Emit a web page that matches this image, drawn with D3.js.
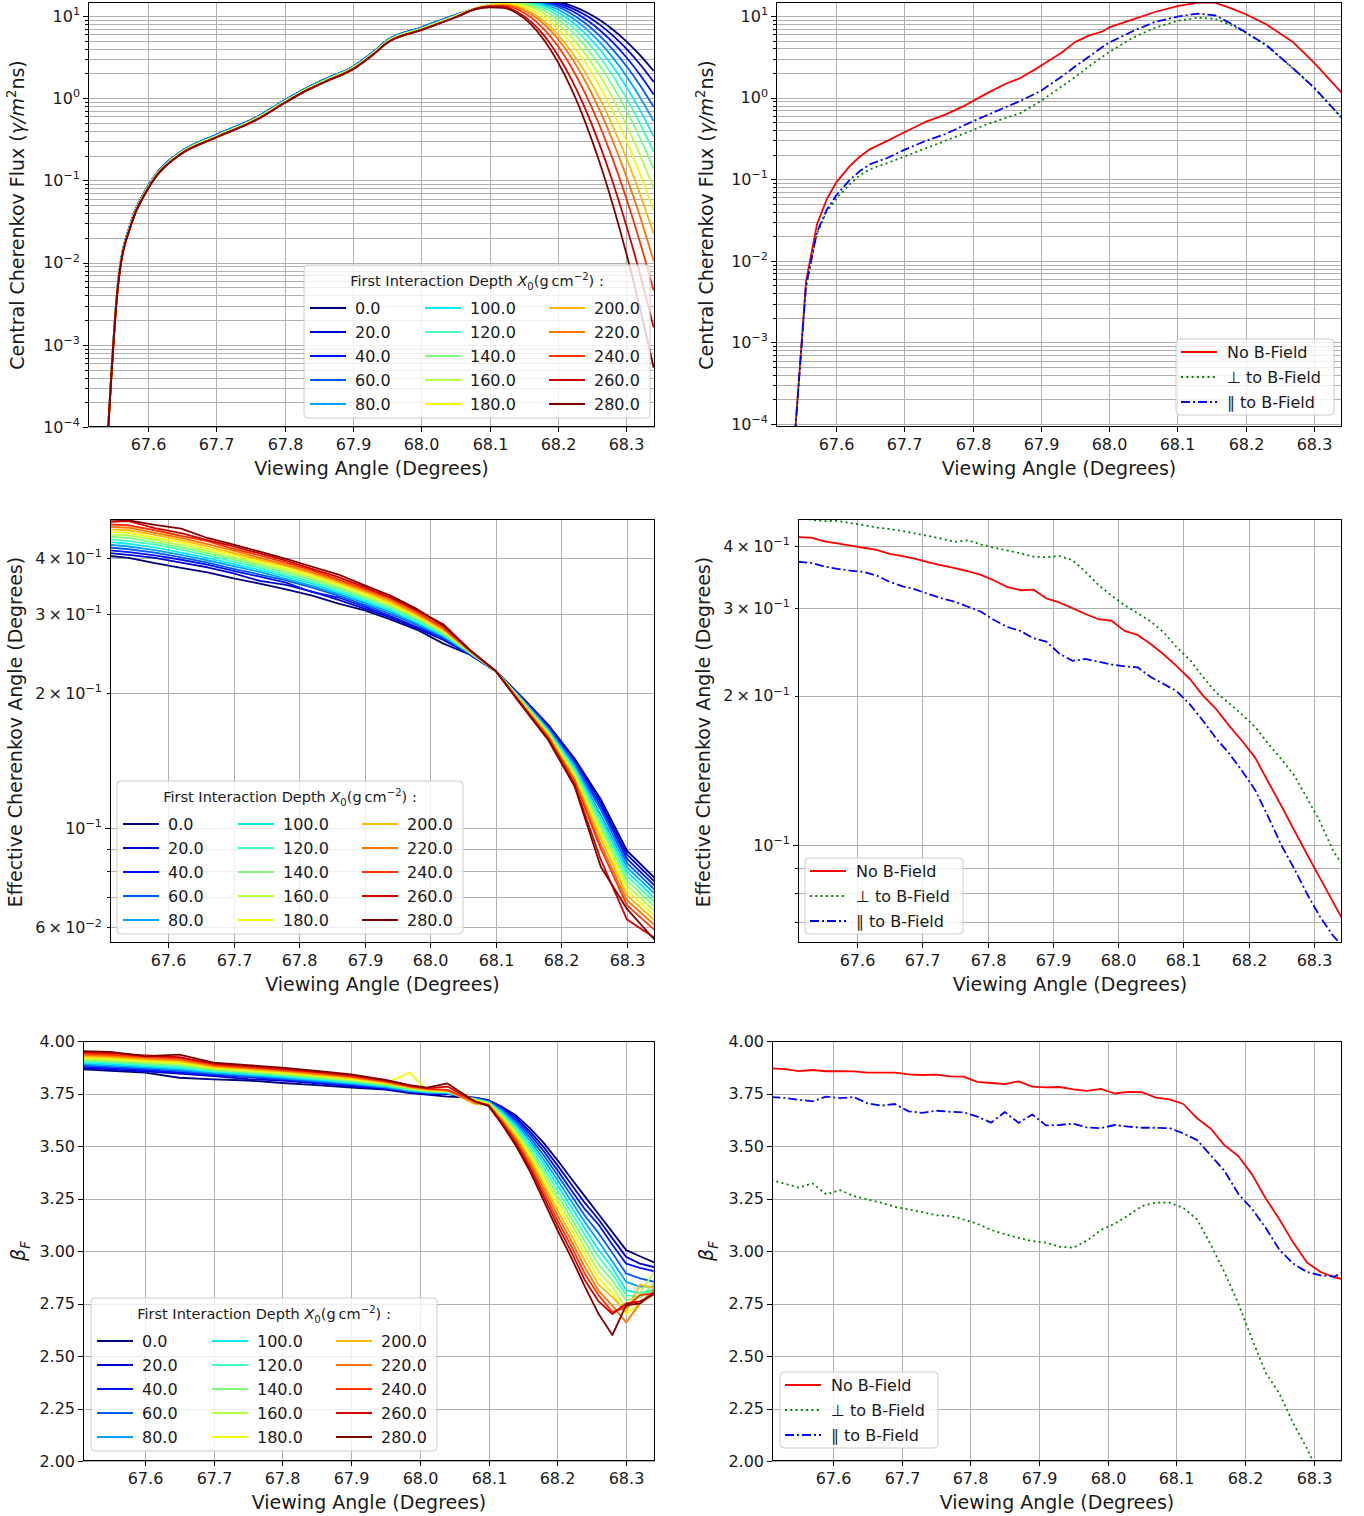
<!DOCTYPE html>
<html>
<head>
<meta charset="utf-8">
<script src="https://cdn.jsdelivr.net/npm/d3@7"></script>
<style>
  body { margin: 0; background: #fff; }
  text { font-family: "DejaVu Sans", sans-serif; fill: #1a1a1a; }
</style>
</head>
<body>
<script>
// ---------- data ----------
const depths = [0, 20, 40, 60, 80, 100, 120, 140, 160, 180, 200, 220, 240, 260, 280];
const angleTicks = [67.6, 67.7, 67.8, 67.9, 68.0, 68.1, 68.2, 68.3];
const bLabels = ['No B-Field', '\u22A5  to B-Field', '\u2225  to B-Field'];

// central Cherenkov flux vs viewing angle, one row per first interaction depth
const fluxAngle = [67.54, 67.556, 67.576, 67.596, 67.613, 67.627, 67.647, 67.70, 67.76, 67.80, 67.83, 67.86, 67.90, 67.93, 67.95, 68.00, 68.05,
  68.08, 68.10, 68.12, 68.14, 68.16, 68.18, 68.20, 68.22, 68.24, 68.26, 68.28, 68.30, 68.32, 68.34];
const fluxByDepth = [
  [5.8e-5, 0.0057, 0.0327, 0.0749, 0.124, 0.164, 0.221, 0.359, 0.595, 0.944, 1.30, 1.72, 2.42, 3.67, 5.07, 7.26, 10.3, 12.2, 13.6, 14.6, 15.4, 15.8, 15.7, 14.9, 13.3, 11.3, 9.06, 6.87, 4.93, 3.35, 2.15],
  [5.8e-5, 0.0057, 0.0327, 0.0749, 0.124, 0.164, 0.221, 0.359, 0.595, 0.944, 1.30, 1.72, 2.42, 3.67, 5.07, 7.26, 10.3, 12.3, 13.6, 14.6, 15.3, 15.7, 15.4, 14.3, 12.5, 10.3, 7.98, 5.82, 4.01, 2.59, 1.58],
  [5.8e-5, 0.0057, 0.0327, 0.0749, 0.124, 0.164, 0.221, 0.359, 0.595, 0.944, 1.30, 1.72, 2.42, 3.67, 5.07, 7.26, 10.3, 12.3, 13.6, 14.6, 15.3, 15.5, 15.0, 13.6, 11.6, 9.20, 6.87, 4.81, 3.15, 1.93, 1.11],
  [5.8e-5, 0.0057, 0.0327, 0.0749, 0.124, 0.164, 0.221, 0.359, 0.595, 0.944, 1.30, 1.72, 2.42, 3.67, 5.07, 7.26, 10.3, 12.3, 13.6, 14.6, 15.2, 15.3, 14.5, 12.9, 10.6, 8.18, 5.87, 3.94, 2.47, 1.44, 0.783],
  [5.8e-5, 0.0057, 0.0327, 0.0749, 0.124, 0.164, 0.221, 0.359, 0.595, 0.944, 1.30, 1.72, 2.42, 3.67, 5.07, 7.26, 10.3, 12.4, 13.6, 14.6, 15.1, 15.0, 13.9, 12.0, 9.59, 7.13, 4.91, 3.14, 1.87, 1.03, 0.527],
  [5.6e-5, 0.0055, 0.0316, 0.0724, 0.120, 0.158, 0.214, 0.347, 0.575, 0.912, 1.26, 1.66, 2.34, 3.55, 4.90, 7.01, 10.0, 12.4, 13.7, 14.6, 15.0, 14.6, 13.2, 11.1, 8.57, 6.11, 4.03, 2.45, 1.38, 0.716, 0.344],
  [5.6e-5, 0.0055, 0.0316, 0.0724, 0.120, 0.158, 0.214, 0.347, 0.575, 0.912, 1.26, 1.66, 2.34, 3.55, 4.90, 7.01, 10.0, 12.4, 13.7, 14.5, 14.8, 14.2, 12.5, 10.1, 7.55, 5.18, 3.26, 1.89, 1.01, 0.493, 0.222],
  [5.6e-5, 0.0055, 0.0316, 0.0724, 0.120, 0.158, 0.214, 0.347, 0.575, 0.912, 1.26, 1.66, 2.34, 3.55, 4.90, 7.01, 10.0, 12.4, 13.6, 14.3, 14.4, 13.5, 11.6, 9.06, 6.50, 4.28, 2.57, 1.42, 0.713, 0.329, 0.139],
  [5.6e-5, 0.0055, 0.0316, 0.0724, 0.120, 0.158, 0.214, 0.347, 0.575, 0.912, 1.26, 1.66, 2.34, 3.55, 4.90, 7.01, 10.0, 12.4, 13.6, 14.2, 14.1, 12.9, 10.6, 8.04, 5.51, 3.44, 1.95, 1.01, 0.476, 0.204, 0.0796],
  [5.6e-5, 0.0055, 0.0316, 0.0724, 0.120, 0.158, 0.214, 0.347, 0.575, 0.912, 1.26, 1.66, 2.34, 3.55, 4.90, 7.01, 10.0, 12.5, 13.6, 14.1, 13.7, 12.1, 9.66, 6.98, 4.56, 2.70, 1.44, 0.697, 0.305, 0.120, 0.0432],
  [5.4e-5, 0.0053, 0.0305, 0.0699, 0.116, 0.153, 0.207, 0.335, 0.555, 0.881, 1.22, 1.60, 2.26, 3.43, 4.73, 6.77, 9.66, 12.4, 13.5, 13.8, 13.1, 11.2, 8.57, 5.90, 3.66, 2.05, 1.03, 0.462, 0.188, 0.0686, 0.0225],
  [5.4e-5, 0.0053, 0.0305, 0.0699, 0.116, 0.153, 0.207, 0.335, 0.555, 0.881, 1.22, 1.60, 2.26, 3.43, 4.73, 6.77, 9.66, 12.2, 13.2, 13.5, 12.7, 10.6, 7.93, 5.24, 3.08, 1.61, 0.745, 0.306, 0.112, 0.0365, 0.0105],
  [5.4e-5, 0.0053, 0.0305, 0.0699, 0.116, 0.153, 0.207, 0.335, 0.555, 0.881, 1.22, 1.60, 2.26, 3.43, 4.73, 6.77, 9.66, 12.3, 13.1, 13.3, 12.1, 9.70, 6.85, 4.28, 2.35, 1.14, 0.486, 0.183, 0.0608, 0.0178, 0.00459],
  [5.4e-5, 0.0053, 0.0305, 0.0699, 0.116, 0.153, 0.207, 0.335, 0.555, 0.881, 1.22, 1.60, 2.26, 3.43, 4.73, 6.77, 9.66, 12.3, 13.1, 13.0, 11.3, 8.61, 5.73, 3.32, 1.68, 0.743, 0.286, 0.0964, 0.0283, 0.00726, 0.00163],
  [5.4e-5, 0.0053, 0.0305, 0.0699, 0.116, 0.153, 0.207, 0.335, 0.555, 0.881, 1.22, 1.60, 2.26, 3.43, 4.73, 6.77, 9.66, 12.1, 12.8, 12.6, 10.8, 7.99, 5.05, 2.74, 1.28, 0.509, 0.175, 0.0514, 0.0130, 0.00282, 0.000525]
];

// central flux, B-field comparison
const fluxAngleB = [67.54, 67.556, 67.572, 67.586, 67.60, 67.62, 67.635, 67.65, 67.675, 67.70, 67.73, 67.76, 67.79, 67.82, 67.85, 67.87, 67.90,
  67.93, 67.95, 67.97, 67.99, 68.00, 68.035, 68.067, 68.10, 68.13, 68.155, 68.18, 68.20, 68.23, 68.27, 68.30, 68.34];
const fluxNoB = [7.9e-5, 0.0056, 0.028, 0.056, 0.091, 0.145, 0.19, 0.234, 0.295, 0.376, 0.50, 0.62, 0.81, 1.12, 1.50, 1.74, 2.45,
  3.55, 4.79, 5.75, 6.46, 7.24, 9.12, 11.2, 13.2, 14.6, 14.6, 12.3, 10.5, 7.94, 4.73, 2.69, 1.16];
const fluxPerp = [7.9e-5, 0.0048, 0.0214, 0.0398, 0.0575, 0.087, 0.112, 0.133, 0.158, 0.19, 0.237, 0.296, 0.37, 0.468, 0.569, 0.646, 0.912,
  1.36, 1.78, 2.40, 3.16, 3.63, 5.43, 7.19, 8.71, 9.55, 9.23, 7.67, 6.25, 4.38, 2.24, 1.32, 0.57];
const fluxPar = [7.9e-5, 0.005, 0.0224, 0.0417, 0.063, 0.098, 0.126, 0.153, 0.182, 0.229, 0.292, 0.357, 0.468, 0.603, 0.776, 0.912, 1.21,
  1.80, 2.40, 3.16, 4.17, 4.72, 6.56, 8.45, 9.82, 10.7, 10.2, 7.94, 6.31, 4.42, 2.26, 1.33, 0.575];

// effective Cherenkov angle vs viewing angle, per depth
const cherAngle = [67.51, 67.54, 67.58, 67.62, 67.66, 67.70, 67.74, 67.78, 67.82, 67.86, 67.90, 67.94, 67.98, 68.02, 68.06, 68.10, 68.14, 68.18, 68.22, 68.26, 68.30, 68.345];
const cherByDepth = [
  [0.405, 0.401, 0.390, 0.381, 0.372, 0.361, 0.351, 0.341, 0.330, 0.317, 0.306, 0.292, 0.277, 0.258, 0.244, 0.224, 0.196, 0.170, 0.143, 0.116, 0.0890, 0.0767],
  [0.411, 0.407, 0.401, 0.391, 0.382, 0.370, 0.356, 0.349, 0.337, 0.323, 0.309, 0.295, 0.279, 0.263, 0.244, 0.224, 0.195, 0.169, 0.142, 0.114, 0.0872, 0.0752],
  [0.417, 0.413, 0.406, 0.397, 0.387, 0.375, 0.364, 0.353, 0.336, 0.327, 0.312, 0.297, 0.281, 0.265, 0.245, 0.224, 0.195, 0.168, 0.140, 0.112, 0.0854, 0.0737],
  [0.423, 0.419, 0.412, 0.402, 0.391, 0.379, 0.368, 0.357, 0.344, 0.330, 0.315, 0.300, 0.284, 0.266, 0.245, 0.224, 0.194, 0.167, 0.139, 0.110, 0.0835, 0.0722],
  [0.429, 0.425, 0.417, 0.407, 0.396, 0.384, 0.373, 0.360, 0.347, 0.333, 0.318, 0.303, 0.286, 0.268, 0.246, 0.224, 0.193, 0.166, 0.138, 0.107, 0.0817, 0.0707],
  [0.435, 0.431, 0.423, 0.412, 0.401, 0.388, 0.377, 0.364, 0.351, 0.336, 0.321, 0.306, 0.288, 0.269, 0.246, 0.224, 0.193, 0.165, 0.136, 0.105, 0.0799, 0.0692],
  [0.441, 0.437, 0.429, 0.418, 0.406, 0.393, 0.381, 0.368, 0.354, 0.340, 0.324, 0.308, 0.290, 0.271, 0.247, 0.224, 0.192, 0.164, 0.135, 0.103, 0.0781, 0.0677],
  [0.447, 0.444, 0.434, 0.423, 0.411, 0.398, 0.385, 0.372, 0.358, 0.343, 0.327, 0.311, 0.293, 0.272, 0.247, 0.224, 0.192, 0.163, 0.133, 0.101, 0.0763, 0.0662],
  [0.452, 0.450, 0.440, 0.428, 0.415, 0.402, 0.389, 0.376, 0.362, 0.346, 0.330, 0.314, 0.295, 0.274, 0.247, 0.224, 0.191, 0.163, 0.132, 0.099, 0.0744, 0.0647],
  [0.458, 0.456, 0.445, 0.434, 0.420, 0.407, 0.393, 0.380, 0.365, 0.350, 0.333, 0.316, 0.297, 0.275, 0.248, 0.224, 0.190, 0.162, 0.131, 0.097, 0.0726, 0.0632],
  [0.464, 0.462, 0.451, 0.439, 0.425, 0.411, 0.397, 0.384, 0.369, 0.353, 0.336, 0.319, 0.299, 0.277, 0.248, 0.224, 0.190, 0.161, 0.129, 0.095, 0.0708, 0.0617],
  [0.470, 0.468, 0.456, 0.444, 0.430, 0.416, 0.401, 0.387, 0.372, 0.356, 0.339, 0.322, 0.301, 0.278, 0.249, 0.224, 0.189, 0.160, 0.128, 0.092, 0.0690, 0.0602],
  [0.476, 0.474, 0.462, 0.449, 0.437, 0.420, 0.406, 0.391, 0.376, 0.359, 0.342, 0.325, 0.304, 0.280, 0.249, 0.224, 0.188, 0.159, 0.127, 0.090, 0.0672, 0.0587],
  [0.482, 0.484, 0.467, 0.455, 0.439, 0.425, 0.410, 0.395, 0.379, 0.363, 0.345, 0.327, 0.306, 0.285, 0.250, 0.224, 0.188, 0.158, 0.125, 0.085, 0.0625, 0.0565],
  [0.488, 0.486, 0.475, 0.466, 0.444, 0.429, 0.414, 0.399, 0.383, 0.368, 0.348, 0.330, 0.308, 0.283, 0.250, 0.224, 0.187, 0.157, 0.124, 0.082, 0.0660, 0.0557]
];

// shared angle grid for the B-field comparisons of angle and beta
const angleB = [67.51, 67.53, 67.55, 67.57, 67.59, 67.61, 67.63, 67.65, 67.67, 67.69, 67.71, 67.73, 67.75, 67.77, 67.79, 67.81, 67.83, 67.85, 67.87, 67.89, 67.91,
  67.93, 67.95, 67.97, 67.99, 68.01, 68.03, 68.05, 68.07, 68.09, 68.11, 68.13, 68.15, 68.17, 68.19, 68.21, 68.23, 68.25, 68.27, 68.29, 68.31, 68.33, 68.35];
const cherNoB = [0.417, 0.416, 0.409, 0.405, 0.401, 0.397, 0.393, 0.386, 0.382, 0.377, 0.371, 0.366, 0.361, 0.356, 0.350, 0.341, 0.331, 0.326, 0.327, 0.314, 0.308,
  0.300, 0.292, 0.285, 0.283, 0.270, 0.265, 0.254, 0.242, 0.229, 0.216, 0.200, 0.188, 0.174, 0.162, 0.150, 0.134, 0.120, 0.107, 0.0955, 0.0855, 0.0765, 0.0685];
const cherPerp = [0.456, 0.452, 0.449, 0.450, 0.445, 0.441, 0.436, 0.433, 0.429, 0.424, 0.419, 0.414, 0.408, 0.411, 0.403, 0.397, 0.392, 0.387, 0.381, 0.380, 0.382,
  0.375, 0.355, 0.334, 0.318, 0.304, 0.293, 0.282, 0.268, 0.250, 0.236, 0.218, 0.203, 0.193, 0.183, 0.173, 0.160, 0.149, 0.138, 0.124, 0.111, 0.097, 0.089];
const cherPar = [0.372, 0.370, 0.364, 0.360, 0.357, 0.355, 0.349, 0.339, 0.332, 0.327, 0.320, 0.314, 0.309, 0.302, 0.295, 0.284, 0.275, 0.270, 0.261, 0.257, 0.243,
  0.235, 0.237, 0.234, 0.231, 0.229, 0.228, 0.218, 0.211, 0.204, 0.192, 0.178, 0.164, 0.153, 0.141, 0.129, 0.114, 0.100, 0.0895, 0.0795, 0.0715, 0.0655, 0.0615];

// beta_F vs viewing angle, per depth
const betaAngle = [67.51, 67.55, 67.60, 67.65, 67.70, 67.75, 67.80, 67.85, 67.90, 67.95, 67.985, 68.01, 68.04, 68.08, 68.10, 68.12, 68.14, 68.16, 68.18, 68.20,
  68.22, 68.24, 68.26, 68.28, 68.30, 68.32, 68.345];
const betaByDepth = [
  [3.865, 3.858, 3.849, 3.825, 3.817, 3.812, 3.800, 3.790, 3.778, 3.768, 3.752, 3.745, 3.735, 3.730, 3.718, 3.685, 3.645, 3.585, 3.515, 3.433, 3.345, 3.260, 3.175, 3.090, 3.004, 2.975, 2.940],
  [3.871, 3.864, 3.855, 3.845, 3.833, 3.818, 3.811, 3.798, 3.784, 3.771, 3.755, 3.747, 3.747, 3.729, 3.716, 3.684, 3.635, 3.570, 3.495, 3.409, 3.318, 3.229, 3.150, 3.060, 2.972, 2.940, 2.920],
  [3.877, 3.871, 3.862, 3.851, 3.838, 3.828, 3.816, 3.802, 3.789, 3.775, 3.757, 3.750, 3.749, 3.727, 3.714, 3.677, 3.624, 3.556, 3.476, 3.385, 3.291, 3.199, 3.125, 3.030, 2.940, 2.920, 2.900],
  [3.884, 3.877, 3.868, 3.858, 3.843, 3.832, 3.820, 3.807, 3.793, 3.778, 3.760, 3.775, 3.750, 3.726, 3.712, 3.671, 3.614, 3.541, 3.456, 3.362, 3.265, 3.168, 3.085, 2.990, 2.893, 2.870, 2.850],
  [3.890, 3.884, 3.874, 3.864, 3.848, 3.837, 3.825, 3.812, 3.797, 3.781, 3.763, 3.754, 3.752, 3.725, 3.710, 3.664, 3.604, 3.526, 3.436, 3.338, 3.238, 3.137, 3.045, 2.950, 2.853, 2.830, 2.830],
  [3.896, 3.890, 3.880, 3.871, 3.853, 3.842, 3.830, 3.816, 3.802, 3.785, 3.766, 3.757, 3.754, 3.723, 3.708, 3.658, 3.593, 3.512, 3.417, 3.314, 3.211, 3.106, 3.005, 2.920, 2.813, 2.800, 2.820],
  [3.902, 3.897, 3.887, 3.877, 3.858, 3.847, 3.835, 3.821, 3.806, 3.788, 3.768, 3.759, 3.756, 3.722, 3.706, 3.651, 3.583, 3.497, 3.397, 3.290, 3.184, 3.076, 2.970, 2.890, 2.790, 2.780, 2.830],
  [3.908, 3.903, 3.893, 3.884, 3.863, 3.852, 3.840, 3.825, 3.811, 3.792, 3.771, 3.762, 3.758, 3.721, 3.704, 3.645, 3.573, 3.482, 3.378, 3.266, 3.157, 3.045, 2.935, 2.860, 2.766, 2.780, 2.860],
  [3.915, 3.909, 3.899, 3.891, 3.867, 3.856, 3.844, 3.830, 3.815, 3.795, 3.774, 3.764, 3.759, 3.720, 3.702, 3.639, 3.562, 3.468, 3.358, 3.243, 3.131, 3.014, 2.900, 2.830, 2.726, 2.800, 2.920],
  [3.921, 3.916, 3.906, 3.897, 3.872, 3.861, 3.849, 3.835, 3.819, 3.798, 3.850, 3.766, 3.761, 3.718, 3.700, 3.632, 3.552, 3.453, 3.338, 3.219, 3.104, 2.984, 2.870, 2.800, 2.700, 2.750, 2.800],
  [3.927, 3.922, 3.912, 3.904, 3.877, 3.866, 3.854, 3.839, 3.824, 3.802, 3.779, 3.769, 3.763, 3.700, 3.698, 3.626, 3.541, 3.439, 3.319, 3.195, 3.077, 2.953, 2.840, 2.780, 2.710, 2.840, 2.820],
  [3.933, 3.929, 3.918, 3.910, 3.882, 3.871, 3.859, 3.844, 3.828, 3.805, 3.782, 3.771, 3.765, 3.705, 3.696, 3.619, 3.531, 3.424, 3.299, 3.171, 3.050, 2.922, 2.810, 2.740, 2.660, 2.750, 2.830],
  [3.940, 3.935, 3.924, 3.917, 3.887, 3.875, 3.863, 3.849, 3.832, 3.808, 3.785, 3.773, 3.767, 3.714, 3.694, 3.613, 3.521, 3.409, 3.279, 3.147, 3.023, 2.891, 2.790, 2.710, 2.730, 2.790, 2.800],
  [3.946, 3.942, 3.931, 3.923, 3.892, 3.880, 3.868, 3.853, 3.837, 3.812, 3.787, 3.776, 3.783, 3.713, 3.692, 3.606, 3.510, 3.395, 3.260, 3.124, 2.997, 2.861, 2.760, 2.700, 2.750, 2.760, 2.800],
  [3.952, 3.948, 3.928, 3.935, 3.897, 3.885, 3.873, 3.858, 3.841, 3.815, 3.790, 3.778, 3.798, 3.712, 3.690, 3.600, 3.500, 3.380, 3.240, 3.100, 2.970, 2.830, 2.700, 2.600, 2.742, 2.750, 2.813]
];

const betaNoB = [3.870, 3.866, 3.857, 3.862, 3.856, 3.857, 3.855, 3.849, 3.849, 3.849, 3.841, 3.838, 3.840, 3.832, 3.830, 3.805, 3.800, 3.795, 3.808, 3.783, 3.779,
  3.781, 3.770, 3.762, 3.772, 3.750, 3.758, 3.756, 3.730, 3.722, 3.700, 3.632, 3.582, 3.503, 3.452, 3.365, 3.250, 3.150, 3.040, 2.945, 2.900, 2.875, 2.860];
const betaPerp = [3.338, 3.320, 3.302, 3.322, 3.270, 3.290, 3.262, 3.245, 3.230, 3.210, 3.198, 3.185, 3.170, 3.167, 3.150, 3.130, 3.100, 3.080, 3.063, 3.047, 3.040,
  3.020, 3.016, 3.050, 3.100, 3.130, 3.170, 3.215, 3.230, 3.230, 3.205, 3.150, 3.030, 2.897, 2.750, 2.580, 2.420, 2.320, 2.180, 2.060, 1.920, 1.800, 1.700];
const betaPar = [3.733, 3.729, 3.720, 3.713, 3.735, 3.728, 3.733, 3.703, 3.692, 3.700, 3.665, 3.658, 3.668, 3.663, 3.660, 3.640, 3.611, 3.662, 3.610, 3.650, 3.598,
  3.600, 3.606, 3.588, 3.585, 3.600, 3.592, 3.587, 3.587, 3.585, 3.560, 3.528, 3.455, 3.381, 3.272, 3.200, 3.110, 3.005, 2.940, 2.900, 2.884, 2.878, 2.910];

// ---------- styles ----------
const jetR = d3.scaleLinear().domain([0, 0.35, 0.66, 0.89, 1]).range([0, 0, 1, 1, 0.5]).clamp(true);
const jetG = d3.scaleLinear().domain([0, 0.125, 0.375, 0.64, 0.91, 1]).range([0, 0, 1, 1, 0, 0]).clamp(true);
const jetB = d3.scaleLinear().domain([0, 0.11, 0.34, 0.65, 1]).range([0.5, 1, 1, 0, 0]).clamp(true);
const depthColor = depths.map((d, i) => {
  const t = i / (depths.length - 1);
  return d3.rgb(255 * jetR(t), 255 * jetG(t), 255 * jetB(t)).formatHex();
});
const bStyles = [
  { color: '#ff0000', dash: null },
  { color: '#008000', dash: '2,3.3' },
  { color: '#0000ff', dash: '9,3,2,3' }
];

const svg = d3.select('body').append('svg').attr('width', 1364).attr('height', 1516);
const fmt1 = d3.format('.1f');
const MINUS = '\u2212';

// text with italic / superscript / subscript parts; base shifts the whole baseline
function rich(t, parts, fs, base = 0) {
  let shift = -base;
  parts.forEach(p => {
    const target = p.sup ? -0.42 * fs : (p.sub ? 0.25 * fs : 0);
    const ts = t.append('tspan').text(p.s).attr('dy', target - shift);
    shift = target;
    if (p.sup || p.sub) ts.attr('font-size', fs * 0.7);
    if (p.it) ts.attr('font-style', 'italic');
  });
}

function logLabel(v) {
  const e = Math.floor(Math.log10(v) + 1e-9);
  const m = Math.round(v / Math.pow(10, e));
  const es = (e < 0 ? MINUS : '') + Math.abs(e);
  return m === 1 ? [{ s: '10' }, { s: es, sup: true }] : [{ s: m + '\u2009\u00D7\u200910' }, { s: es, sup: true }];
}

function logGrid(dom) {
  const out = [];
  for (let e = -6; e <= 2; e++) for (let k = 1; k <= 9; k++) {
    const v = k * Math.pow(10, e);
    if (v >= dom[0] * 0.999 && v <= dom[1] * 1.001) out.push(v);
  }
  return out;
}

function depthLegend(g, L) {
  g.append('rect').attr('x', L.x).attr('y', L.y).attr('width', 346).attr('height', 153).attr('rx', 4)
    .attr('fill', '#fff').attr('fill-opacity', 0.8).attr('stroke', '#cccccc');
  const tt = g.append('text').attr('x', L.x + 173).attr('y', L.y + 21).attr('text-anchor', 'middle').attr('font-size', 14.5);
  rich(tt, [{ s: 'First Interaction Depth ' }, { s: 'X', it: true }, { s: '0', sub: true }, { s: '(g\u2009cm' }, { s: MINUS + '2', sup: true }, { s: ') :' }], 14.5);
  const lineX = [6, 121, 245], textX = [51, 166, 290];
  depths.forEach((d, i) => {
    const c = Math.floor(i / 5), r = i % 5;
    const yy = L.y + 43 + 24 * r;
    g.append('line').attr('x1', L.x + lineX[c]).attr('x2', L.x + lineX[c] + 36).attr('y1', yy).attr('y2', yy)
      .attr('stroke', depthColor[i]).attr('stroke-width', 2);
    g.append('text').attr('x', L.x + textX[c]).attr('y', yy).attr('dy', '0.36em').attr('font-size', 16).text(fmt1(d));
  });
}

function bLegend(g, L) {
  g.append('rect').attr('x', L.x).attr('y', L.y).attr('width', 158).attr('height', 76).attr('rx', 4)
    .attr('fill', '#fff').attr('fill-opacity', 0.8).attr('stroke', '#cccccc');
  bLabels.forEach((lab, i) => {
    const yy = L.y + 13 + 25 * i;
    g.append('line').attr('x1', L.x + 5).attr('x2', L.x + 41).attr('y1', yy).attr('y2', yy)
      .attr('stroke', bStyles[i].color).attr('stroke-width', 2).attr('stroke-dasharray', bStyles[i].dash);
    g.append('text').attr('x', L.x + 51).attr('y', yy).attr('dy', '0.36em').attr('font-size', 16).text(lab);
  });
}

function drawPanel(p) {
  const g = svg.append('g');
  const x = d3.scaleLinear().domain(p.xDomain).range([p.left, p.right]);
  const y = (p.log ? d3.scaleLog() : d3.scaleLinear()).domain(p.yDomain).range([p.bottom, p.top]);
  const clipId = 'clip' + p.id;
  svg.append('clipPath').attr('id', clipId).append('rect')
    .attr('x', p.left).attr('y', p.top).attr('width', p.right - p.left).attr('height', p.bottom - p.top);

  const yGrid = p.log ? logGrid(p.yDomain) : p.yTicks;
  g.selectAll(null).data(angleTicks).join('line')
    .attr('x1', d => Math.round(x(d)) + 0.5).attr('x2', d => Math.round(x(d)) + 0.5)
    .attr('y1', p.top).attr('y2', p.bottom).attr('stroke', '#b0b0b0').attr('stroke-width', 1);
  g.selectAll(null).data(yGrid).join('line')
    .attr('y1', d => Math.round(y(d)) + 0.5).attr('y2', d => Math.round(y(d)) + 0.5)
    .attr('x1', p.left).attr('x2', p.right).attr('stroke', '#b0b0b0').attr('stroke-width', 1);

  const line = d3.line().x(d => x(d[0])).y(d => y(d[1])).curve(p.curve || d3.curveLinear);
  p.series.forEach(s => {
    g.append('path').attr('clip-path', `url(#${clipId})`)
      .attr('d', line(d3.zip(p.xs, s.values)))
      .attr('fill', 'none').attr('stroke', s.color).attr('stroke-width', 1.8)
      .attr('stroke-dasharray', s.dash || null).attr('stroke-linejoin', 'round');
  });

  g.append('rect').attr('x', p.left + 0.5).attr('y', p.top + 0.5)
    .attr('width', p.right - p.left - 1).attr('height', p.bottom - p.top - 1)
    .attr('fill', 'none').attr('stroke', '#000').attr('stroke-width', 1);

  // x ticks
  angleTicks.forEach(t => {
    const xx = Math.round(x(t)) + 0.5;
    g.append('line').attr('x1', xx).attr('x2', xx).attr('y1', p.bottom).attr('y2', p.bottom + 5).attr('stroke', '#000');
    g.append('text').attr('x', xx).attr('y', p.bottom + 23).attr('text-anchor', 'middle').attr('font-size', 16).text(fmt1(t));
  });
  // y ticks
  yGrid.forEach(v => {
    const yy = Math.round(y(v)) + 0.5;
    const major = p.log ? Math.abs(Math.log10(v) - Math.round(Math.log10(v))) < 1e-6 : true;
    g.append('line').attr('x1', p.left - (major ? 5 : 3)).attr('x2', p.left).attr('y1', yy).attr('y2', yy).attr('stroke', '#000');
  });
  p.yLabels.forEach(v => {
    const t = g.append('text').attr('x', p.left - 8).attr('y', y(v)).attr('text-anchor', 'end').attr('font-size', 16);
    if (p.log) rich(t, logLabel(v), 16, 0.36 * 16);
    else t.attr('dy', '0.36em').text(d3.format('.2f')(v));
  });

  g.append('text').attr('x', (p.left + p.right) / 2).attr('y', p.bottom + 48)
    .attr('text-anchor', 'middle').attr('font-size', 19).text('Viewing Angle (Degrees)');
  const yl = g.append('text').attr('transform', `translate(${p.yLabelX},${p.yLabelY}) rotate(-90)`)
    .attr('text-anchor', 'middle').attr('font-size', 19);
  rich(yl, p.yTitle, 19, 0.36 * 19);

  if (p.depthLegend) depthLegend(g, p.depthLegend);
  if (p.bLegend) bLegend(g, p.bLegend);
}

const fluxTitle = [{ s: 'Central Cherenkov Flux (' }, { s: '\u03B3/m', it: true }, { s: '2', sup: true }, { s: 'ns)' }];
const angTitle = [{ s: 'Effective Cherenkov Angle (Degrees)' }];
const betaTitle = [{ s: '\u03B2', it: true }, { s: 'F', it: true, sub: true }];
const depthSeries = rows => rows.map((r, i) => ({ values: r, color: depthColor[i] }));
const bSeries = rows => rows.map((r, i) => ({ values: r, color: bStyles[i].color, dash: bStyles[i].dash }));
const betaTicks = [2.0, 2.25, 2.5, 2.75, 3.0, 3.25, 3.5, 3.75, 4.0];

drawPanel({ id: 1, left: 88, right: 655, top: 2, bottom: 427, xDomain: [67.512, 68.342], log: true, yDomain: [1e-4, 14.82],
  yLabels: [1e-4, 1e-3, 1e-2, 1e-1, 1, 10], xs: fluxAngle, series: depthSeries(fluxByDepth), curve: d3.curveMonotoneX,
  yTitle: fluxTitle, yLabelX: 17, yLabelY: 215, depthLegend: { x: 304, y: 265 } });
drawPanel({ id: 2, left: 776, right: 1342, top: 2, bottom: 427, xDomain: [67.512, 68.341], log: true, yDomain: [9.2e-5, 14.85],
  yLabels: [1e-4, 1e-3, 1e-2, 1e-1, 1, 10], xs: fluxAngleB, series: bSeries([fluxNoB, fluxPerp, fluxPar]),
  yTitle: fluxTitle, yLabelX: 706, yLabelY: 215, bLegend: { x: 1176, y: 339 } });
drawPanel({ id: 3, left: 110, right: 655, top: 519, bottom: 943, xDomain: [67.5115, 68.3427], log: true, yDomain: [0.0554, 0.4895],
  yLabels: [0.06, 0.1, 0.2, 0.3, 0.4], xs: cherAngle, series: depthSeries(cherByDepth),
  yTitle: angTitle, yLabelX: 15, yLabelY: 732, depthLegend: { x: 117, y: 781 } });
drawPanel({ id: 4, left: 798, right: 1342, top: 519, bottom: 943, xDomain: [67.5096, 68.343], log: true, yDomain: [0.0635, 0.4536],
  yLabels: [0.1, 0.2, 0.3, 0.4], xs: angleB, series: bSeries([cherNoB, cherPerp, cherPar]),
  yTitle: angTitle, yLabelX: 703, yLabelY: 732, bLegend: { x: 805, y: 858 } });
drawPanel({ id: 5, left: 83, right: 655, top: 1041, bottom: 1461, xDomain: [67.5098, 68.342], log: false, yDomain: [2, 4],
  yTicks: betaTicks, yLabels: betaTicks, xs: betaAngle, series: depthSeries(betaByDepth),
  yTitle: betaTitle, yLabelX: 18, yLabelY: 1251, depthLegend: { x: 91, y: 1298 } });
drawPanel({ id: 6, left: 772, right: 1342, top: 1041, bottom: 1461, xDomain: [67.511, 68.341], log: false, yDomain: [2, 4],
  yTicks: betaTicks, yLabels: betaTicks, xs: angleB, series: bSeries([betaNoB, betaPerp, betaPar]),
  yTitle: betaTitle, yLabelX: 706, yLabelY: 1251, bLegend: { x: 780, y: 1372 } });
</script>
</body>
</html>
